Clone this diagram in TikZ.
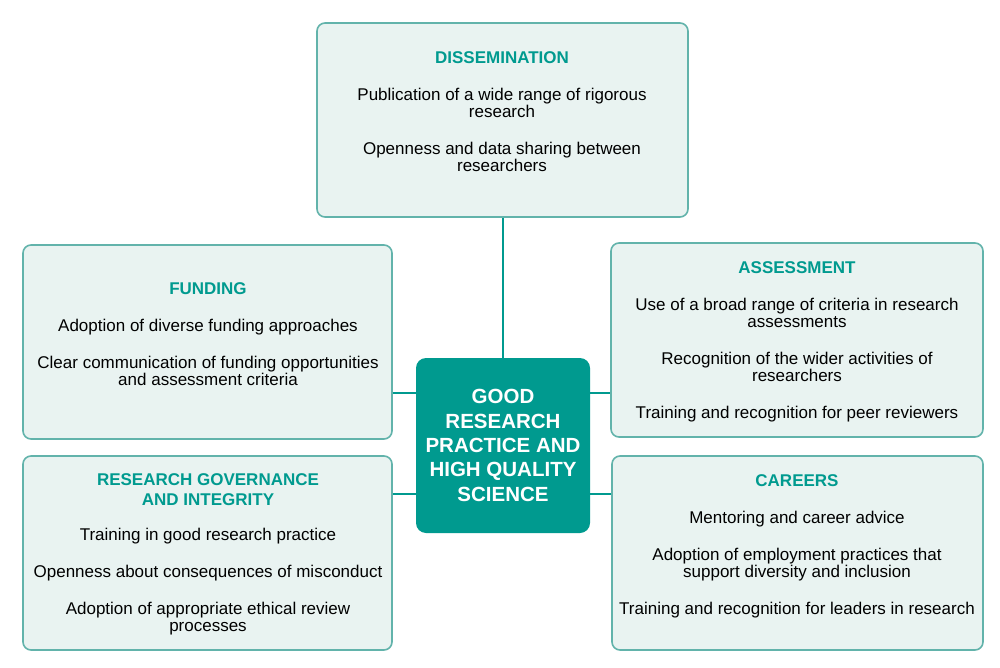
\documentclass[tikz,border=0pt]{standalone}
\usepackage{fontspec}
\setmainfont{Liberation Sans}
\usetikzlibrary{positioning}

\definecolor{tealdark}{HTML}{009A8F}
\definecolor{boxline}{HTML}{62B3AB}
\definecolor{boxfill}{HTML}{E9F3F1}

\tikzset{
    areabox/.style={draw=boxline, fill=boxfill, line width=0.8pt, rounded corners=4pt,
        minimum width=185pt, minimum height=97pt},
    areatext/.style={anchor=north, align=center, inner sep=0pt,
        font=\fontsize{8.5}{8.5}\selectfont},
    hub/.style={fill=tealdark, rounded corners=5pt, minimum width=87pt, minimum height=87.5pt,
        text=white, align=center, font=\fontsize{10.25}{12.2}\selectfont\bfseries},
    link/.style={draw=tealdark, line width=1pt},
}
\newcommand{\areahead}[1]{\textcolor{tealdark}{\bfseries #1}}

\begin{document}
\begin{tikzpicture}[x=0.5pt,y=-0.5pt]
    \useasboundingbox (0,0) rectangle (1000,668);

    % boxes
    \node[areabox, minimum width=185.5pt] (diss) at (502.5,120) {};
    \node[areabox, minimum width=184.5pt] (fund) at (207.5,342) {};
    \node[areabox, minimum width=186pt] (assess) at (797,340) {};
    \node[areabox, minimum width=184.5pt] (gov) at (207.5,553) {};
    \node[areabox, minimum width=185.5pt] (career) at (797.5,553) {};
    \node[hub] (hub) at (503,445.5) {GOOD\\RESEARCH\\PRACTICE AND\\HIGH QUALITY\\SCIENCE};

    % links
    \draw[link] (diss.south) -- (diss.south |- hub.north);
    \draw[link] (fund.east |- 0,393) -- (hub.west |- 0,393);
    \draw[link] (gov.east |- 0,494) -- (hub.west |- 0,494);
    \draw[link] (hub.east |- 0,393) -- (assess.west |- 0,393);
    \draw[link] (hub.east |- 0,494) -- (career.west |- 0,494);

    % texts
    \node[areatext] (disstext) at (502,51) {\areahead{DISSEMINATION}\\[10pt]
        Publication of a wide range of rigorous\\research\\[10pt]
        Openness and data sharing between\\researchers};
    \node[areatext] (fundtext) at (208,282) {\areahead{FUNDING}\\[10pt]
        Adoption of diverse funding approaches\\[10pt]
        Clear communication of funding opportunities\\and assessment criteria};
    \node[areatext] (assesstext) at (797,261) {\areahead{ASSESSMENT}\\[10pt]
        Use of a broad range of criteria in research\\assessments\\[10pt]
        Recognition of the wider activities of\\researchers\\[10pt]
        Training and recognition for peer reviewers};
    \node[areatext] (govtext) at (208,473) {\areahead{RESEARCH GOVERNANCE}\\[1.5pt]
        \areahead{AND INTEGRITY}\\[9pt]
        Training in good research practice\\[10pt]
        Openness about consequences of misconduct\\[10pt]
        Adoption of appropriate ethical review\\processes};
    \node[areatext] (careertext) at (797,474) {\areahead{CAREERS}\\[10pt]
        Mentoring and career advice\\[10pt]
        Adoption of employment practices that\\support diversity and inclusion\\[10pt]
        Training and recognition for leaders in research};
\end{tikzpicture}
\end{document}
